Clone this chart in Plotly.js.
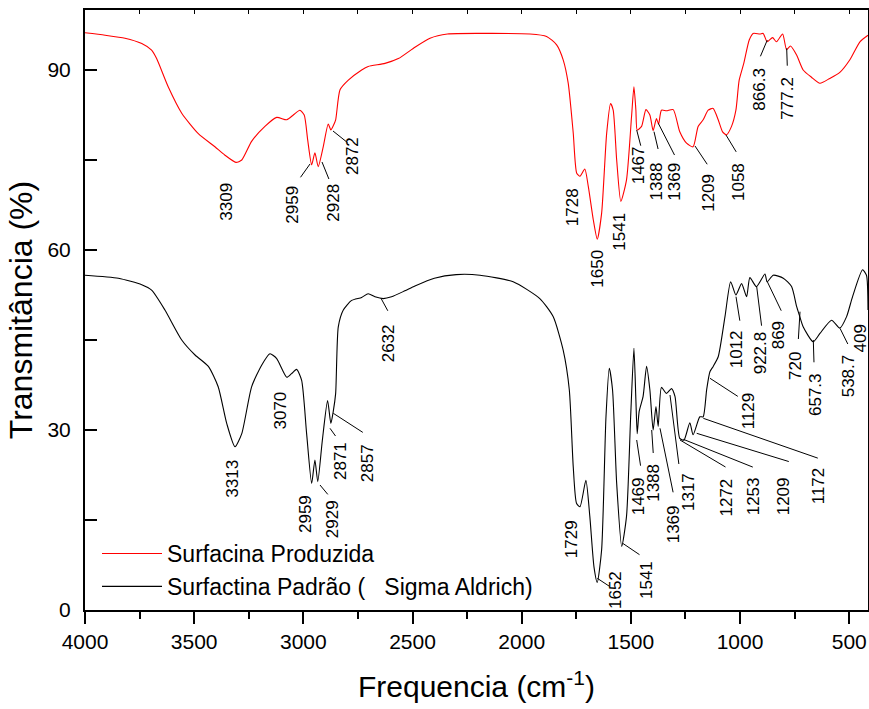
<!DOCTYPE html>
<html><head><meta charset="utf-8">
<script src="https://cdn.plot.ly/plotly-3.0.1.min.js"></script>
<style>html,body{margin:0;padding:0;background:#fff}#chart{width:869px;height:709px}</style>
</head><body><div id="chart"></div>
<script>
// ---- data ----
const seriesNames = ['Surfacina Produzida', 'Surfactina Padrão (\u00a0\u00a0 Sigma Aldrich)'];

const redWavenumber = [4000,3908,3817,3740,3695,3672,3619,3557,3481,3405,3359,3309,3282,3237,3176,3122,3076,3046,3016,2996,2980,2962,2947,2932,2909,2886,2874,2863,2852,2832,2794,2733,2703,2626,2565,2489,2420,2340,2190,1962,1886,1840,1810,1787,1764,1748,1733,1711,1695,1672,1654,1634,1611,1593,1581,1565,1546,1520,1497,1486,1477,1471,1451,1431,1413,1398,1383,1373,1360,1337,1306,1276,1245,1215,1192,1169,1146,1123,1100,1080,1062,1039,1019,1004,983,958,940,909,894,876,851,833,805,787,769,741,711,673,634,589,543,497,451,414];
const redTransmittance = [96.2,95.8,95.3,94.4,93.3,91.9,87.2,82.8,79.4,77.2,75.8,74.6,75.0,78.1,80.6,82.1,81.7,82.5,83.3,82.5,78.3,74.2,76.2,73.9,77.2,81.0,80.0,80.7,81.7,86.7,88.3,90.0,90.6,91.1,91.9,93.8,95.3,96.0,96.1,96.0,95.6,94.2,91.7,87.8,79.5,72.8,72.3,73.5,70.6,65.0,61.8,66.1,79.4,84.4,83.3,75.0,68.1,71.7,82.2,87.2,83.3,80.0,80.6,83.4,82.5,79.9,81.9,81.0,83.3,83.2,83.4,79.7,77.8,77.2,80.6,81.7,83.3,83.6,81.7,79.7,79.2,80.6,83.3,88.3,91.1,95.0,96.1,96.0,96.1,94.7,95.4,94.7,96.0,93.4,94.0,92.5,90.0,88.8,87.8,88.6,89.6,91.7,94.7,95.8];

const blackWavenumber = [4000,3847,3740,3695,3634,3557,3496,3435,3390,3351,3313,3282,3237,3191,3153,3122,3076,3054,3031,3008,2985,2962,2947,2934,2913,2889,2874,2863,2852,2840,2817,2779,2733,2703,2672,2634,2596,2535,2489,2400,2300,2191,2039,1917,1856,1810,1782,1764,1749,1733,1706,1688,1669,1654,1634,1614,1599,1584,1565,1542,1520,1501,1486,1477,1471,1462,1444,1428,1413,1398,1385,1375,1360,1337,1314,1298,1276,1257,1230,1215,1184,1169,1153,1138,1123,1100,1069,1043,1019,993,970,955,925,886,876,848,802,764,741,729,711,665,634,581,543,512,485,439,421,414];
const blackTransmittance = [55.8,55.3,54.2,53.3,50.0,45.0,42.5,40.6,37.2,31.1,27.2,29.4,37.2,40.8,42.7,41.9,38.8,39.4,40.1,38.3,29.4,21.1,25.0,21.4,28.3,34.9,31.1,33.1,36.1,47.2,50.0,51.6,52.1,52.7,52.2,51.9,52.2,53.2,54.0,55.3,55.9,55.8,54.7,51.9,48.9,43.3,36.7,23.9,17.8,17.2,21.6,15.6,7.2,4.6,10.0,32.2,40.3,36.7,21.1,10.6,15.6,32.2,43.6,35.0,29.4,33.1,35.6,40.6,36.7,30.0,33.9,30.6,37.1,36.1,36.9,35.6,28.6,28.3,31.2,29.2,32.2,32.2,36.7,39.7,40.6,42.2,48.9,54.7,52.5,54.4,52.2,55.4,53.9,56.0,54.7,55.8,55.3,53.9,50.6,49.2,47.2,44.7,46.1,48.3,47.0,48.9,52.2,56.7,55.8,50.0];

const redPeakLabels = ['3309','2959','2928','2872','1728','1650','1541','1467','1388','1369','1209','1058','866.3','777.2'];
const blackPeakLabels = ['3313','3070','2959','2929','2871','2857','2632','1729','1652','1541','1469','1388','1369','1317','1272','1253','1209','1172','1129','1012','922.8','869','720','657.3','538.7','409'];

const xTickValues = [4000,3500,3000,2500,2000,1500,1000,500];
const xTickText = ['4000','3500','3000','2500','2000','1500','1000','500'];
const yTickValues = [0,30,60,90];
const yTickText = ['0','30','60','90'];

// ---- label placement (page pixels): leader [headX, headY, tailX, tailY] or null, text centre [x, y] ----
const redLabelPlacement = [
  [null,[225.7,202]],
  [[310,164,300,178],[291.7,205]],
  [[322,162,329.3,180],[332.7,203]],
  [[333,131,348,143],[352,156]],
  [null,[572.7,207.5]],
  [null,[596.7,269]],
  [null,[620,231.7]],
  [[636.7,130,641,146.7],[638.3,165]],
  [[654,131.7,658.3,150],[656.7,181.7]],
  [[658.3,123.3,675,156],[675,181.7]],
  [[695,146,707.7,165],[708.3,192.5]],
  [[726,135,736.7,152.7],[738.3,181.7]],
  [[767.3,40,760,57.3],[758.7,89]],
  [[786.7,48.3,787.3,66.7],[786.7,98]]
];
const blackLabelPlacement = [
  [null,[231.7,479]],
  [null,[280,410.5]],
  [null,[305,514]],
  [[320,485,328.3,495],[332.7,519.5]],
  [[330,428.3,336,436.7],[340,461]],
  [[333.3,413.3,363.3,432.7],[367.7,463.5]],
  [[381,298.3,388.3,311.7],[388.3,343]],
  [null,[571.7,539.5]],
  [[597.3,578.3,610,586.7],[615,590]],
  [[622.7,543.3,640,555],[646,580]],
  [[636.7,440,640.7,466.7],[638.3,496]],
  [[651.7,430,653.3,454],[653.3,482.5]],
  [[660,428.3,673.3,493.3],[673.3,524]],
  [[670,395,679,465],[688.3,491.7]],
  [[680,440,726,467.3],[726,497.5]],
  [[683.3,439.3,753.3,467.3],[753.3,496]],
  [[696.7,433.3,789.3,461.7],[783.3,496]],
  [[703.3,418.3,818.3,458.3],[818.3,486]],
  [[710,378.3,738.3,396.7],[748.3,411]],
  [[736,296.7,740,321.7],[736.3,349]],
  [[756.7,286.7,761.7,326.7],[760.3,353]],
  [[767.3,281.7,781.7,311.7],[778.3,335]],
  [[800,311.7,798.3,340],[795,366]],
  [[813.3,340,814,363.3],[815,395]],
  [[840,328.3,848.3,345],[848.3,376]],
  [null,[859.5,339]]
];

// ---- layout geometry ----
const M = {l:85, r:1, t:10, b:99};
const W = 869 - M.l - M.r, H = 709 - M.t - M.b;
const xRange = [4000, 414], yRange = [0, 100];
const px2x = px => xRange[0] + (px - M.l) / W * (xRange[1] - xRange[0]);
const py2y = py => yRange[1] - (py - M.t) / H * (yRange[1] - yRange[0]);

const FONT = 'Liberation Sans, Arial, Helvetica, sans-serif';
const annotations = [];
function addLabels(labels, placement) {
  labels.forEach((txt, i) => {
    const [lead, c] = placement[i];
    if (lead) {
      annotations.push({xref:'x', yref:'y', x:px2x(lead[0]), y:py2y(lead[1]),
        ax:lead[2]-lead[0], ay:lead[3]-lead[1], text:' ', showarrow:true,
        arrowhead:0, arrowwidth:1, arrowcolor:'#000', standoff:0, startstandoff:0,
        font:{size:1}, borderpad:0});
    }
    annotations.push({xref:'x', yref:'y', x:px2x(c[0]), y:py2y(c[1]), text:txt,
      showarrow:false, textangle:-90, xanchor:'center', yanchor:'middle',
      font:{family:FONT, size:17, color:'#000'}});
  });
}
addLabels(redPeakLabels, redLabelPlacement);
addLabels(blackPeakLabels, blackLabelPlacement);

const traces = [
  {x:redWavenumber, y:redTransmittance, type:'scatter', mode:'lines', name:seriesNames[0],
   line:{color:'#ff0000', width:1.1, shape:'spline', smoothing:0.6}},
  {x:blackWavenumber, y:blackTransmittance, type:'scatter', mode:'lines', name:seriesNames[1],
   line:{color:'#000000', width:1.1, shape:'spline', smoothing:0.6}},
  {x:[], y:[], xaxis:'x2', yaxis:'y', type:'scatter', mode:'lines', showlegend:false, hoverinfo:'skip'}
];

const layout = {
  width:869, height:709, margin:M, paper_bgcolor:'#fff', plot_bgcolor:'#fff',
  font:{family:FONT, color:'#000'},
  showlegend:true,
  legend:{x:(97-M.l)/W, y:(M.t+H-532)/H, xanchor:'left', yanchor:'top', bgcolor:'rgba(0,0,0,0)',
          font:{family:FONT, size:23, color:'#000'}, itemwidth:60, tracegroupgap:0},
  xaxis:{range:xRange, autorange:false, tickmode:'array', tickvals:xTickValues, ticktext:xTickText,
         ticks:'outside', ticklen:12, tickwidth:2, tickcolor:'#000',
         showline:true, linewidth:2, linecolor:'#000', mirror:true, showgrid:false, zeroline:false,
         tickfont:{family:FONT, size:21, color:'#000'},
         minor:{tick0:0, dtick:250, ticks:'outside', ticklen:7, tickwidth:2, tickcolor:'#000', showgrid:false},
         title:{text:'Frequencia (cm<sup>-1</sup>)', font:{family:FONT, size:30, color:'#000'}, standoff:24}},
  xaxis2:{overlaying:'x', side:'top', anchor:'y', range:xRange, autorange:false, tick0:0, dtick:250,
          ticks:'inside', ticklen:4, tickwidth:1, tickcolor:'#000', showticklabels:false,
          showline:false, showgrid:false, zeroline:false},
  yaxis:{range:yRange, autorange:false, tickmode:'array', tickvals:yTickValues, ticktext:yTickText,
         ticks:'inside', ticklen:12, tickwidth:2, tickcolor:'#000',
         showline:true, linewidth:2, linecolor:'#000', mirror:true, showgrid:false, zeroline:false,
         ticklabelstandoff:8,
         tickfont:{family:FONT, size:21, color:'#000'},
         minor:{tickvals:[15,45,75], ticks:'inside', ticklen:12, tickwidth:2, tickcolor:'#000', showgrid:false},
         title:{text:'Transmitância (%)', font:{family:FONT, size:32, color:'#000'}, standoff:5}},
  annotations:annotations
};

Plotly.newPlot('chart', traces, layout, {displayModeBar:false, staticPlot:true});
</script>
</body></html>
